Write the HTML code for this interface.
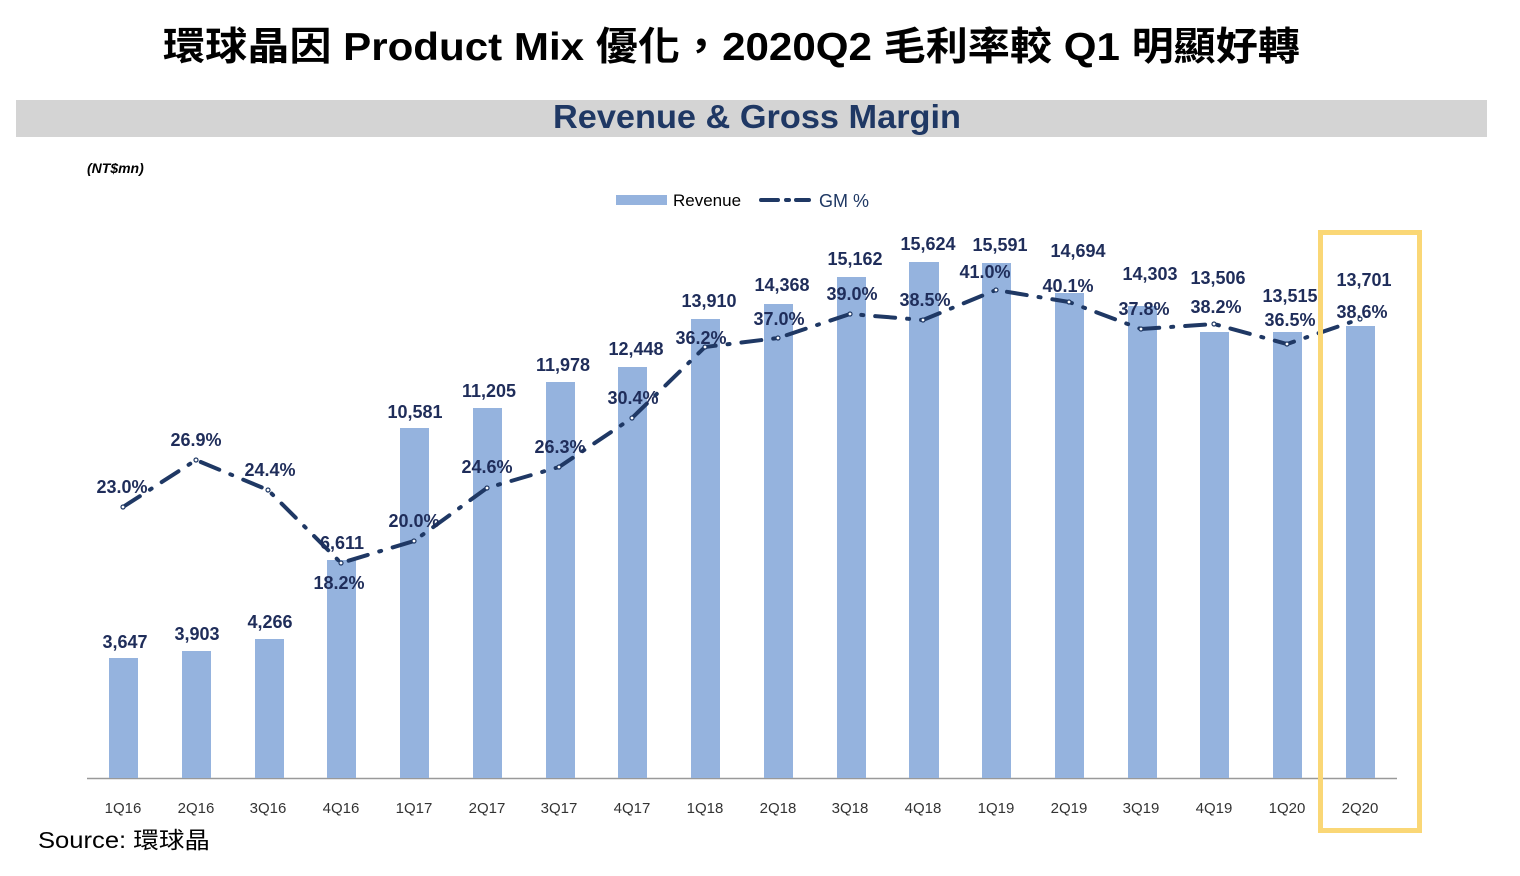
<!DOCTYPE html>
<html><head><meta charset="utf-8"><style>
body{margin:0;width:1520px;height:876px;background:#fff;overflow:hidden}
svg{display:block}
.v{font:bold 18px "Liberation Sans",sans-serif;fill:#1f2d5a;text-anchor:middle}
.x{font:15px "Liberation Sans",sans-serif;fill:#333;text-anchor:middle}
</style></head><body>
<svg width="1520" height="876" viewBox="0 0 1520 876" xmlns="http://www.w3.org/2000/svg">
<text x="163" y="60" textLength="1137" lengthAdjust="spacingAndGlyphs" style="font:bold 39px 'Liberation Sans','Noto Sans CJK TC',sans-serif" fill="#000">環球晶因 Product Mix 優化，2020Q2 毛利率較 Q1 明顯好轉</text>
<rect x="16" y="100" width="1471" height="37" fill="#d4d4d4"/>
<text x="553" y="128" textLength="408" lengthAdjust="spacingAndGlyphs" style="font:bold 33px 'Liberation Sans',sans-serif" fill="#1f3864">Revenue &amp; Gross Margin</text>
<text x="87" y="173" style="font:italic bold 14px 'Liberation Sans',sans-serif" fill="#000">(NT$mn)</text>
<rect x="616" y="195" width="51" height="10" fill="#95b3de"/>
<text x="673" y="206" style="font:17px 'Liberation Sans',sans-serif" fill="#000">Revenue</text>
<path d="M761 200H778M786 200H789M796 200H809" stroke="#1f3864" stroke-width="4" stroke-linecap="round"/>
<text x="819" y="207" style="font:18px 'Liberation Sans',sans-serif" fill="#1f3864">GM %</text>
<line x1="87" y1="778.5" x2="1397" y2="778.5" stroke="#999" stroke-width="1.5"/>
<g fill="#95b3de">
<rect x="109" y="658" width="29" height="120"/>
<rect x="182" y="651" width="29" height="127"/>
<rect x="255" y="639" width="29" height="139"/>
<rect x="327" y="560" width="29" height="218"/>
<rect x="400" y="428" width="29" height="350"/>
<rect x="473" y="408" width="29" height="370"/>
<rect x="546" y="382" width="29" height="396"/>
<rect x="618" y="367" width="29" height="411"/>
<rect x="691" y="319" width="29" height="459"/>
<rect x="764" y="304" width="29" height="474"/>
<rect x="837" y="277" width="29" height="501"/>
<rect x="909" y="262" width="30" height="516"/>
<rect x="982" y="263" width="29" height="515"/>
<rect x="1055" y="293" width="29" height="485"/>
<rect x="1128" y="306" width="29" height="472"/>
<rect x="1200" y="332" width="29" height="446"/>
<rect x="1273" y="332" width="29" height="446"/>
<rect x="1346" y="326" width="29" height="452"/>
</g>
<polyline fill="none" stroke="#1f3864" stroke-width="4" stroke-linecap="round" stroke-dasharray="20 12 2 12" points="123,507 196,460 268,490 341,563 414,541 487,488 559,467 632,418 705,347 778,338 850,314 923,320 996,290 1069,302 1141,329 1214,324 1287,344 1360,319"/>
<g fill="#fff" stroke="#1f3864" stroke-width="1.2">
<circle cx="123" cy="507" r="2"/><circle cx="196" cy="460" r="2"/><circle cx="268" cy="490" r="2"/><circle cx="341" cy="563" r="2"/><circle cx="414" cy="541" r="2"/><circle cx="487" cy="488" r="2"/><circle cx="559" cy="467" r="2"/><circle cx="632" cy="418" r="2"/><circle cx="705" cy="347" r="2"/><circle cx="778" cy="338" r="2"/><circle cx="850" cy="314" r="2"/><circle cx="923" cy="320" r="2"/><circle cx="996" cy="290" r="2"/><circle cx="1069" cy="302" r="2"/><circle cx="1141" cy="329" r="2"/><circle cx="1214" cy="324" r="2"/><circle cx="1287" cy="344" r="2"/><circle cx="1360" cy="319" r="2"/>
</g>
<g class="v">
<text x="125" y="648">3,647</text><text x="197" y="640">3,903</text><text x="270" y="628">4,266</text><text x="342" y="549">6,611</text>
<text x="415" y="418">10,581</text><text x="489" y="397">11,205</text><text x="563" y="371">11,978</text><text x="636" y="355">12,448</text>
<text x="709" y="307">13,910</text><text x="782" y="291">14,368</text><text x="855" y="265">15,162</text><text x="928" y="250">15,624</text>
<text x="1000" y="251">15,591</text><text x="1078" y="257">14,694</text><text x="1150" y="280">14,303</text><text x="1218" y="284">13,506</text>
<text x="1290" y="302">13,515</text><text x="1364" y="286">13,701</text>
<text x="122" y="493">23.0%</text><text x="196" y="446">26.9%</text><text x="270" y="476">24.4%</text><text x="339" y="589">18.2%</text>
<text x="414" y="527">20.0%</text><text x="487" y="473">24.6%</text><text x="560" y="453">26.3%</text><text x="633" y="404">30.4%</text>
<text x="701" y="344">36.2%</text><text x="779" y="325">37.0%</text><text x="852" y="300">39.0%</text><text x="925" y="306">38.5%</text>
<text x="985" y="278">41.0%</text><text x="1068" y="292">40.1%</text><text x="1144" y="315">37.8%</text><text x="1216" y="313">38.2%</text>
<text x="1290" y="326">36.5%</text><text x="1362" y="318">38.6%</text>
</g>
<g class="x">
<text x="123" y="813">1Q16</text><text x="196" y="813">2Q16</text><text x="268" y="813">3Q16</text><text x="341" y="813">4Q16</text>
<text x="414" y="813">1Q17</text><text x="487" y="813">2Q17</text><text x="559" y="813">3Q17</text><text x="632" y="813">4Q17</text>
<text x="705" y="813">1Q18</text><text x="778" y="813">2Q18</text><text x="850" y="813">3Q18</text><text x="923" y="813">4Q18</text>
<text x="996" y="813">1Q19</text><text x="1069" y="813">2Q19</text><text x="1141" y="813">3Q19</text><text x="1214" y="813">4Q19</text>
<text x="1287" y="813">1Q20</text><text x="1360" y="813">2Q20</text>
</g>
<rect x="1320.5" y="232.5" width="99" height="598" fill="none" stroke="#fad776" stroke-width="5"/>
<text x="38" y="848" textLength="172" lengthAdjust="spacingAndGlyphs" style="font:23px 'Liberation Sans','Noto Sans CJK TC',sans-serif" fill="#000">Source: 環球晶</text>
</svg>
</body></html>
